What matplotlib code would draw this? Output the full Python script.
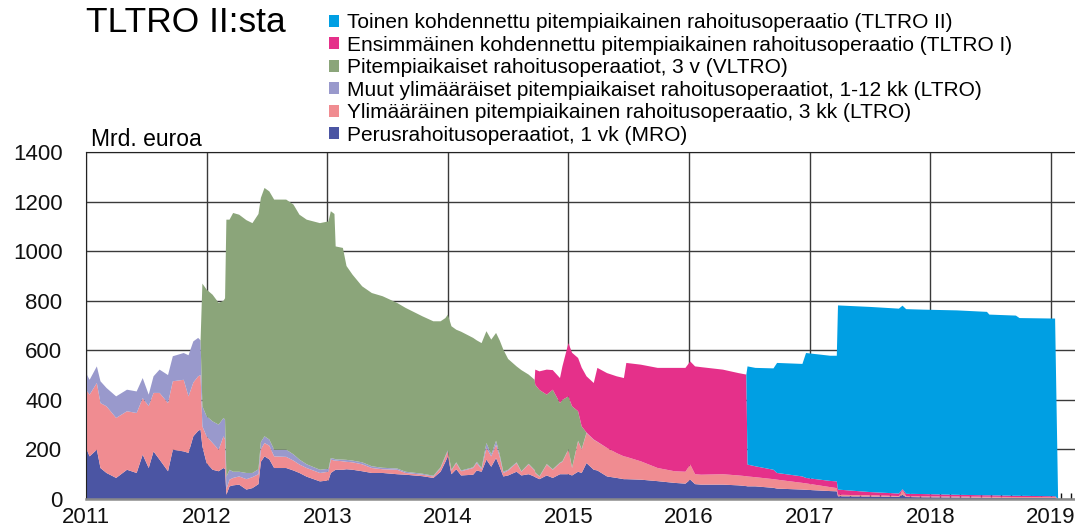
import numpy as np
import matplotlib
matplotlib.use("Agg")
import matplotlib.pyplot as plt
from matplotlib.ticker import MultipleLocator

plt.rcParams['font.family'] = ['Liberation Sans', 'DejaVu Sans']

# aika (desimaalivuosi) ja sarjat, mrd. euroa
t = [2011.00, 2011.03, 2011.09, 2011.12, 2011.17, 2011.25, 2011.34, 2011.42, 2011.47, 2011.52,
     2011.56, 2011.61, 2011.68, 2011.72, 2011.81, 2011.85, 2011.89, 2011.93, 2011.95,
     2011.965, 2012.00, 2012.05, 2012.10, 2012.14, 2012.153, 2012.164, 2012.19, 2012.22, 2012.27,
     2012.33, 2012.38, 2012.43, 2012.45, 2012.48, 2012.52, 2012.56, 2012.66, 2012.72, 2012.77,
     2012.83, 2012.94, 2013.01, 2013.03, 2013.06, 2013.07, 2013.13, 2013.16, 2013.21, 2013.29,
     2013.37, 2013.46, 2013.58, 2013.65, 2013.79, 2013.88, 2013.94, 2013.98, 2014.00, 2014.03,
     2014.07, 2014.11, 2014.21, 2014.24, 2014.28, 2014.32, 2014.36, 2014.40, 2014.43, 2014.46,
     2014.50, 2014.57, 2014.61, 2014.67, 2014.72, 2014.725, 2014.76, 2014.82, 2014.87, 2014.93,
     2014.95, 2015.00, 2015.03, 2015.08, 2015.11, 2015.15, 2015.21, 2015.24, 2015.32, 2015.40,
     2015.46, 2015.48, 2015.60, 2015.74, 2015.88, 2015.97, 2016.01, 2016.05, 2016.10, 2016.28,
     2016.41, 2016.475, 2016.485, 2016.55, 2016.70, 2016.73, 2016.94, 2016.97, 2017.17, 2017.225,
     2017.235, 2017.50, 2017.74, 2017.77, 2017.80, 2017.94, 2018.22, 2018.47, 2018.49, 2018.71,
     2018.74, 2019.035, 2019.06]

mro = [206, 172, 199, 125, 105, 85, 118, 105, 179, 125,
       192, 159, 112, 199, 192, 186, 253, 275, 280,
       212, 145, 118, 112, 125, 120, 17, 51, 55, 58,
       38, 44, 60, 150, 172, 160, 125, 125, 115, 105,
       90, 71, 75, 105, 115, 118, 118, 120, 118, 112,
       105, 105, 100, 98, 92, 85, 110, 150, 172, 100,
       120, 95, 98, 115, 110, 159, 130, 165, 130, 91,
       95, 110, 95, 100, 90, 88, 80, 95, 85, 100,
       100, 100, 95, 110, 105, 145, 118, 115, 91, 85,
       80, 80, 78, 72, 65, 62, 78, 60, 58, 58,
       55, 52, 51, 51, 45, 42, 38, 37, 32, 31,
       11, 10, 9, 17, 8, 7, 6, 5, 5, 4,
       4, 4, 0]

ltro_3kk = [235, 249, 269, 262, 269, 242, 236, 242, 228, 250,
            236, 269, 275, 276, 289, 228, 217, 220, 220,
            81, 108, 108, 87, 128, 120, 23, 27, 30, 33,
            42, 44, 40, 50, 54, 55, 47, 45, 40, 34,
            35, 34, 35, 54, 40, 37, 34, 30, 30, 28,
            20, 15, 18, 7, 6, 6, 15, 20, 20, 15,
            25, 17, 27, 30, 10, 47, 42, 54, 40, 14,
            20, 35, 15, 40, 25, 17, 10, 44, 33, 45,
            50, 99, 30, 123, 95, 121, 121, 115, 115, 100,
            92, 90, 74, 53, 47, 48, 61, 40, 40, 42,
            40, 40, 40, 37, 35, 36, 27, 26, 16, 13,
            6, 5, 3, 18, 3, 4, 4, 4, 4, 4,
            4, 4, 0]

ltro_1_12 = [67, 60, 67, 88, 74, 87, 87, 87, 81, 46,
             67, 94, 113, 101, 108, 166, 166, 155, 140,
             81, 81, 87, 101, 74, 80, 50, 40, 25, 19,
             25, 17, 20, 30, 27, 25, 27, 29, 25, 20,
             15, 13, 12, 6, 7, 5, 7, 8, 7, 8,
             7, 6, 5, 5, 4, 3, 3, 5, 5, 3,
             3, 3, 3, 5, 5, 20, 8, 16, 10, 5,
             3, 3, 2, 2, 2, 2, 2, 2, 2, 2,
             2, 2, 2, 2, 2, 2, 1, 1, 0, 0,
             0, 0, 0, 0, 0, 0, 0, 0, 0, 0,
             0, 0, 0, 0, 0, 0, 0, 0, 0, 0,
             0, 0, 0, 0, 0, 0, 0, 0, 0, 0,
             0, 0, 0]

vltro = [0] * 19 + [
    495, 511, 511, 491, 473, 490, 1037, 1009, 1044, 1037,
    1020, 1008, 1030, 985, 1002, 1001, 1009, 1009, 1008, 988,
    987, 995, 998, 996, 988, 859, 854, 782, 750, 710,
    699, 692, 668, 661, 635, 623, 589, 555, 547, 579,
    535, 560, 522, 490, 504, 451, 463, 435, 460, 493,
    447, 387, 408, 360, 364, 354, 348, 280, 321, 240,
    248, 213, 247, 119, 91, 0] + [0] * 37

tltro_1 = [0] * 74 + [
    61, 75, 101, 79, 101,
    135, 215, 216, 215, 237, 227, 228, 298, 302, 310,
    316, 379, 390, 404, 417, 419, 416, 435, 434, 422,
    413, 410, 48, 44, 38, 27, 26, 22, 25, 27,
    21, 13, 10, 5, 10, 9, 7, 6, 6, 5,
    5, 3, 0]

tltro_2 = [0] * 101 + [
    396, 397, 409, 444, 454, 504, 505, 507,
    743, 747, 746, 740, 745, 744, 744, 740, 729, 727,
    717, 717, 0]

labels = ["Perusrahoitusoperaatiot, 1 vk (MRO)",
          "Ylimääräinen pitempiaikainen rahoitusoperaatio, 3 kk (LTRO)",
          "Muut ylimääräiset pitempiaikaiset rahoitusoperaatiot, 1-12 kk (LTRO)",
          "Pitempiaikaiset rahoitusoperaatiot, 3 v (VLTRO)",
          "Ensimmäinen kohdennettu pitempiaikainen rahoitusoperaatio (TLTRO I)",
          "Toinen kohdennettu pitempiaikainen rahoitusoperaatio (TLTRO II)"]
colors = ["#4b55a3", "#f08c91", "#9999cc", "#8ba57a", "#e5308a", "#009fe3"]
years = list(range(2011, 2020))

fig = plt.figure(figsize=(10.75, 5.30), dpi=100)
ax = fig.add_axes([86 / 1075, 31 / 530, 989 / 1075, 347 / 530])

polys = ax.stackplot(t, mro, ltro_3kk, ltro_1_12, vltro, tltro_1, tltro_2,
                     colors=colors, linewidth=0, zorder=2)

ax.set_xlim(2011, 2019.2)
ax.set_ylim(0, 1400)
ax.set_yticks(range(0, 1401, 200))
ax.set_xticks(years)
ax.set_xticklabels([str(y) for y in years])
ax.xaxis.set_minor_locator(MultipleLocator(1 / 12))
ax.grid(True, which='major', color='#3a3a3a', linewidth=1, zorder=0)
ax.set_axisbelow(True)
ax.tick_params(axis='both', which='major', length=0, labelsize=16, colors='#111111')
ax.tick_params(axis='y', pad=17)
ax.tick_params(axis='x', pad=6)
ax.tick_params(axis='x', which='minor', direction='in', length=4, width=1,
               color='#111111')
for mt in ax.xaxis.get_minorticklines():
    mt.set_zorder(5)

ax.spines['right'].set_visible(False)
ax.spines['top'].set_color('#222222')
ax.spines['left'].set_color('#222222')
ax.spines['bottom'].set_color('#8a8a8a')
ax.spines['bottom'].set_linewidth(1.8)
ax.spines['bottom'].set_zorder(4)

fig.text(86 / 1075, 1 - 32 / 530, "TLTRO II:sta", fontsize=25.5, va='baseline', ha='left')
fig.text(91 / 1075, 1 - 145.5 / 530, "Mrd. euroa", fontsize=16.5, va='baseline', ha='left')

fig.legend(polys[::-1], labels[::-1], loc='upper left',
           bbox_to_anchor=(329 / 1075, 1 - 13 / 530), frameon=False, fontsize=15,
           labelspacing=0.17, handlelength=0.5, handleheight=0.5,
           handletextpad=0.35, borderpad=0, borderaxespad=0)

fig.savefig("out.png", dpi=100)
